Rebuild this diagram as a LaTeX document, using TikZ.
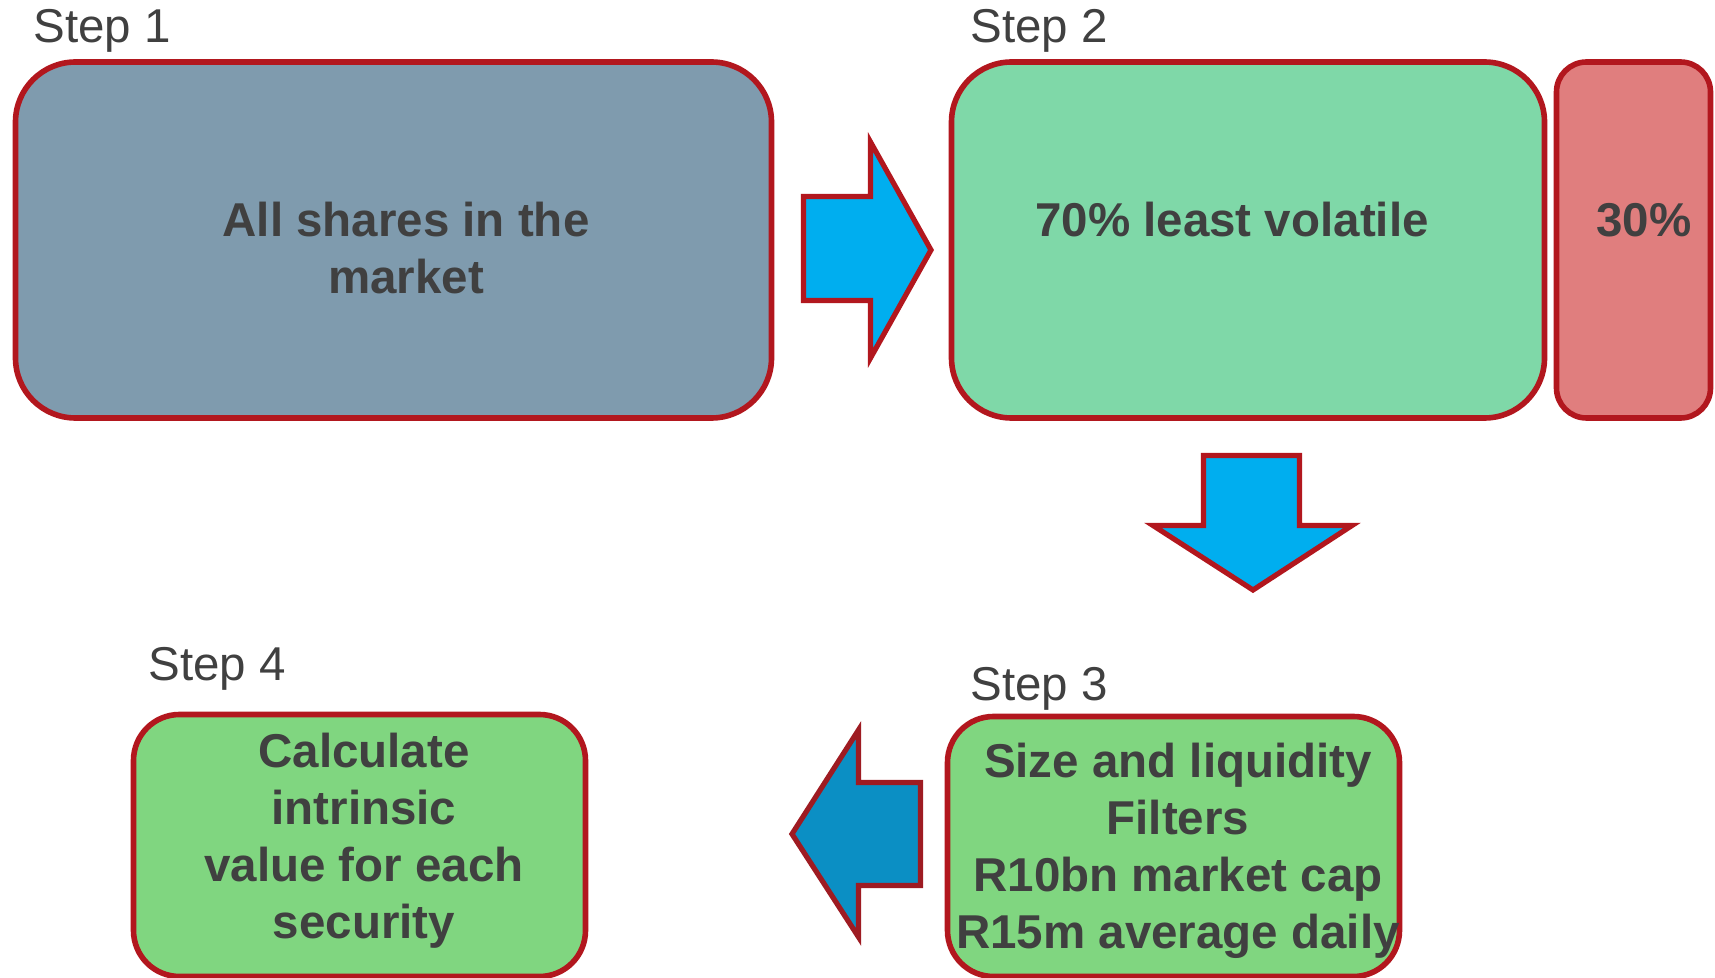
\documentclass[tikz,border=0pt]{standalone}
\usepackage{fontspec}
\setmainfont{Liberation Sans}
\definecolor{txt}{HTML}{404040}
\definecolor{edge}{HTML}{B2171E}
\definecolor{edgedark}{HTML}{9E1B22}
\definecolor{slate}{HTML}{7F9BAE}
\definecolor{mint}{HTML}{7FD8A8}
\definecolor{rosy}{HTML}{E07E7E}
\definecolor{leaf}{HTML}{80D680}
\definecolor{sky}{HTML}{00AEEF}
\definecolor{deepsky}{HTML}{0B8FC4}
\tikzset{
  box/.style={draw=edge, line width=2.8pt, inner sep=0pt, rectangle},
  boxtext/.style={text=txt, font=\fontsize{23.75pt}{28.5pt}\selectfont\bfseries, align=center, inner sep=0pt, anchor=base},
  steplabel/.style={text=txt, font=\fontsize{23.75pt}{28.5pt}\selectfont, inner sep=0pt, anchor=base west},
  blockarrow/.style={draw=edge, line width=2.6pt, fill=sky, line join=miter}
}
\begin{document}
\begin{tikzpicture}[x=0.5pt, y=-0.5pt]
\useasboundingbox (0,0) rectangle (1715,978);
% boxes
\node[box, fill=slate, rounded corners=30pt, minimum width=378pt, minimum height=178pt] (b1) at (393.5,240) {};
\node[box, fill=mint, rounded corners=30pt, minimum width=296.5pt, minimum height=178pt] (b2) at (1248,240) {};
\node[box, fill=rosy, rounded corners=15pt, minimum width=77pt, minimum height=178pt] (b2r) at (1633.5,240) {};
\node[box, fill=leaf, rounded corners=23pt, minimum width=226pt, minimum height=130pt] (b3) at (1173.5,846.5) {};
\node[box, fill=leaf, rounded corners=23pt, minimum width=226pt, minimum height=131pt] (b4) at (359.5,845.5) {};
% texts (anchor base = baseline of the last line)
\node[boxtext] (t1) at (406,294) {All shares in the\\market};
\node[boxtext] (t2) at (1232,237) {70\% least volatile};
\node[boxtext] (t2r) at (1644,237) {30\%};
\node[boxtext] (t3) at (1178,948) {Size and liquidity\\Filters\\R10bn market cap\\R15m average daily};
\node[boxtext] (t4) at (364,938) {Calculate\\intrinsic\\value for each\\security};
% step labels
\node[steplabel] (s1) at (33,43) {Step 1};
\node[steplabel] (s2) at (970,43) {Step 2};
\node[steplabel] (s3) at (970,700) {Step 3};
\node[steplabel] (s4) at (148,681) {Step 4};
% block arrows
\draw[blockarrow] (803.5,196.5) -- (870.5,196.5) -- (870.5,142) -- (931,250) -- (870.5,358) -- (870.5,300.5) -- (803.5,300.5) -- cycle;
\draw[blockarrow] (1203.5,455.5) -- (1299.5,455.5) -- (1299.5,525.5) -- (1352,525.5) -- (1253,590) -- (1153,525.5) -- (1203.5,525.5) -- cycle;
\draw[blockarrow, draw=edgedark, fill=deepsky] (920.5,782.5) -- (858.5,782.5) -- (858.5,730) -- (792,834) -- (858.5,937) -- (858.5,885.5) -- (920.5,885.5) -- cycle;
\end{tikzpicture}
\end{document}
